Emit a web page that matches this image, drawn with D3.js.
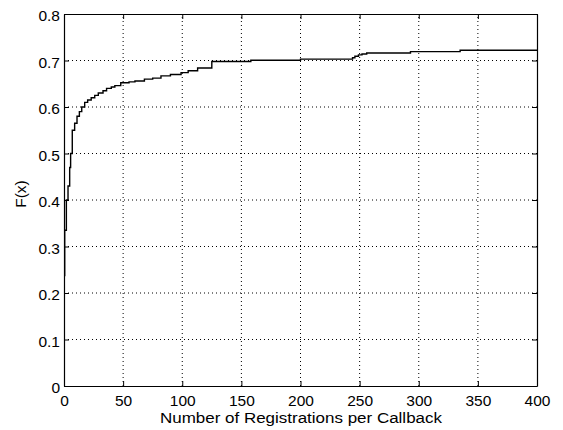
<!DOCTYPE html>
<html>
<head>
<meta charset="utf-8">
<script src="https://cdn.jsdelivr.net/npm/d3@7"></script>
<style>
body { margin: 0; background: white; }
text { font-family: "Liberation Sans", Arial, sans-serif; fill: #000; }
</style>
</head>
<body>
<svg id="chart"></svg>
<script>
// empirical CDF, registrations per callback
var W = 563;
var H = 430;
var margin = {top: 14, right: 26, bottom: 44, left: 64};

// step points (value holds until the next x)
var regX = [0.6, 0.6, 2, 3.4, 4.8, 5.6, 7, 9, 11, 13, 15, 17.5, 20, 23, 26, 29, 33, 36, 40, 43, 48,
            55, 60, 68, 75, 82, 90, 99, 105, 113, 125, 158, 200, 244, 246, 249, 252, 256, 293, 335, 400];
var regF = [0.236, 0.335, 0.40, 0.43, 0.47, 0.50, 0.55, 0.565, 0.58, 0.59, 0.60, 0.61, 0.615, 0.62, 0.625, 0.63, 0.635, 0.64, 0.643, 0.646, 0.652,
            0.654, 0.656, 0.66, 0.662, 0.667, 0.67, 0.674, 0.678, 0.684, 0.698, 0.7005, 0.703, 0.706, 0.709, 0.712, 0.714, 0.716, 0.719, 0.722, 0.722];

var xTicks = [0, 50, 100, 150, 200, 250, 300, 350, 400];
var yTicks = [0, 0.1, 0.2, 0.3, 0.4, 0.5, 0.6, 0.7, 0.8];

var xLabel = "Number of Registrations per Callback";
var yLabel = "F(x)";

var data = regX.map((x, i) => ({x: x, f: regF[i]}));

var svg = d3.select("#chart")
  .attr("width", W)
  .attr("height", H);

svg.append("rect")
  .attr("width", "100%")
  .attr("height", "100%")
  .attr("fill", "white");

var x = d3.scaleLinear()
  .domain([0, 400])
  .range([margin.left, W - margin.right]);

var y = d3.scaleLinear()
  .domain([0, 0.8])
  .range([H - margin.bottom, margin.top]);

// dotted grid
svg.append("g")
  .selectAll("line")
  .data(xTicks.slice(1, -1))
  .enter().append("line")
  .attr("x1", d => x(d)).attr("x2", d => x(d))
  .attr("y1", y(0)).attr("y2", y(0.8))
  .attr("stroke", "#000")
  .attr("stroke-width", 1)
  .attr("stroke-dasharray", "1,3");

svg.append("g")
  .selectAll("line")
  .data(yTicks.slice(1, -1))
  .enter().append("line")
  .attr("x1", x(0)).attr("x2", x(400))
  .attr("y1", d => y(d)).attr("y2", d => y(d))
  .attr("stroke", "#000")
  .attr("stroke-width", 1)
  .attr("stroke-dasharray", "1,3");

var line = d3.line()
  .x(d => x(d.x))
  .y(d => y(d.f))
  .curve(d3.curveStepAfter);

svg.append("path")
  .datum(data)
  .attr("fill", "none")
  .attr("stroke", "#000")
  .attr("stroke-width", 1.4)
  .attr("d", line);

// axes, ticks pointing inward like matlab
var fmtY = d => d === 0 ? "0" : d3.format(".1f")(d);

svg.append("g")
  .attr("transform", `translate(0,${y(0)})`)
  .call(d3.axisBottom(x).tickValues(xTicks).tickSize(-5).tickPadding(9).tickSizeOuter(0))
  .call(g => g.selectAll("text").style("font-size", "15.5px"));

svg.append("g")
  .attr("transform", `translate(0,${y(0.8)})`)
  .call(d3.axisTop(x).tickValues(xTicks).tickSize(-5).tickSizeOuter(0).tickFormat(""));

svg.append("g")
  .attr("transform", `translate(${x(0)},0)`)
  .call(d3.axisLeft(y).tickValues(yTicks).tickSize(-5).tickPadding(4).tickSizeOuter(0).tickFormat(fmtY))
  .call(g => g.selectAll("text").style("font-size", "15.5px").attr("dy", "0.45em"));

svg.append("g")
  .attr("transform", `translate(${x(400)},0)`)
  .call(d3.axisRight(y).tickValues(yTicks).tickSize(-5).tickSizeOuter(0).tickFormat(""));

svg.selectAll(".domain").attr("stroke", "#000").attr("stroke-width", 1.2);
svg.selectAll(".tick line").attr("stroke", "#000");

svg.append("text")
  .attr("x", 160)
  .attr("y", 423)
  .attr("textLength", 282)
  .attr("lengthAdjust", "spacingAndGlyphs")
  .style("font-size", "15.5px")
  .text(xLabel);

svg.append("text")
  .attr("transform", `translate(26,${(y(0) + y(0.8)) / 2 - 6}) rotate(-90)`)
  .attr("text-anchor", "middle")
  .style("font-size", "15.5px")
  .text(yLabel);
</script>
</body>
</html>
